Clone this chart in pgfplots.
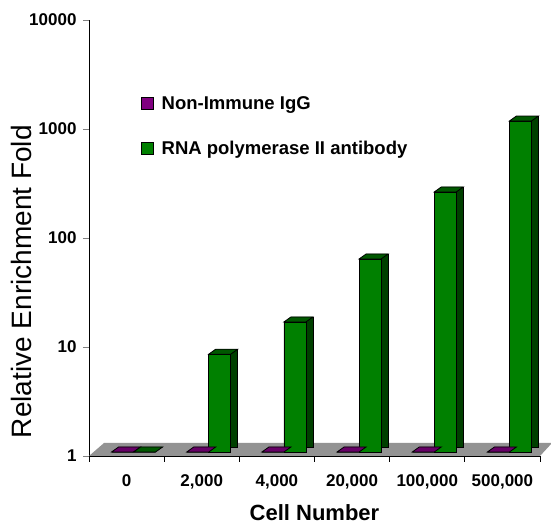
\documentclass[border=0pt]{standalone}
\usepackage{pgfplots}
\pgfplotsset{compat=1.18}
\usepackage{pgfplotstable}
\usepackage{fontspec}
\setmainfont{Liberation Sans}

\definecolor{igg}{HTML}{800080}
\definecolor{iggdark}{HTML}{400040}
\definecolor{iggtop}{HTML}{660066}
\definecolor{pol}{HTML}{008000}
\definecolor{poldark}{HTML}{004000}
\definecolor{poltop}{HTML}{005800}
\definecolor{floorgray}{HTML}{939393}

% top face of a 3D bar, front edge 22pt wide, depth 7pt x 5pt
\pgfdeclareplotmark{topP}{%
  \pgfpathmoveto{\pgfqpoint{-15pt}{4pt}}%
  \pgfpathlineto{\pgfqpoint{7pt}{4pt}}%
  \pgfpathlineto{\pgfqpoint{14pt}{9pt}}%
  \pgfpathlineto{\pgfqpoint{-8pt}{9pt}}%
  \pgfpathclose\pgfusepathqfillstroke}
\pgfdeclareplotmark{topG}{%
  \pgfpathmoveto{\pgfqpoint{7pt}{4pt}}%
  \pgfpathlineto{\pgfqpoint{29pt}{4pt}}%
  \pgfpathlineto{\pgfqpoint{36pt}{9pt}}%
  \pgfpathlineto{\pgfqpoint{14pt}{9pt}}%
  \pgfpathclose\pgfusepathqfillstroke}

\pgfplotstableread{
x igg pol
0 1 1
1 1 7.9
2 1 15.6
3 1 59
4 1 243
5 1 1088
}\enrich

\begin{document}
\begin{tikzpicture}
\path[use as bounding box] (-89pt,-68pt) rectangle (462pt,456pt);
\begin{axis}[
  at={(0,0)}, anchor=south west,
  width=451pt, height=436pt, scale only axis,
  clip=false,
  ymode=log, ymin=1, ymax=10000,
  yminorticks=false,
  log ticks with fixed point,
  /pgf/number format/1000 sep={},
  /pgf/number format/assume math mode=true,
  xmin=-0.5, xmax=5.5,
  xtick={0,...,5},
  xticklabels={0,{2,000},{4,000},{20,000},{100,000},{500,000}},
  xtick style={draw=none},
  extra x ticks={-0.5,0.5,1.5,2.5,3.5,4.5,5.5},
  extra x tick labels={},
  extra x tick style={xtick style={draw=black}},
  major tick length=6pt,
  tick align=outside,
  tick style={line width=0.8pt},
  axis x line*=bottom, axis y line*=left,
  x axis line style={-, line width=0.8pt},
  y axis line style={-, line width=0.8pt},
  ticklabel style={font=\bfseries\fontsize{17}{17}\selectfont},
  yticklabel style={xshift=-3pt},
  xticklabel style={anchor=base, yshift=-25pt},
  ylabel={Relative Enrichment Fold},
  ylabel style={font=\fontsize{28}{28}\selectfont, at={(axis description cs:-0.149,0.40)}, anchor=center},
  xlabel={Cell Number},
  xlabel style={font=\bfseries\fontsize{22}{22}\selectfont, at={(axis description cs:0.5,0)}, anchor=base, yshift=-64pt},
  legend style={draw=none, fill=none, inner sep=0pt, at={(axis description cs:0.1155,0.757)}, anchor=west,
    font=\bfseries\fontsize{18.5}{18.5}\selectfont, row sep=26pt},
  legend cell align=left,
  legend image code/.code={\draw[#1, line width=0.8pt] (0pt,-10pt) rectangle (12pt,2pt);
    \path[draw=none, fill=none] (12pt,-4pt) -- (18pt,-4pt);},
]
% floor
\fill[floorgray] (rel axis cs:0,0) -- (rel axis cs:1,0) -- ([shift={(12pt,13pt)}]rel axis cs:1,0)
  -- ([shift={(15pt,13pt)}]rel axis cs:0,0) -- cycle;
% Non-Immune IgG
\addplot[ybar, bar width=22pt, bar shift=3pt, yshift=9pt, fill=iggdark, draw=black, line width=0.8pt, forget plot]
  table[x=x, y=igg] {\enrich};
\addplot[ybar, bar width=22pt, bar shift=-4pt, yshift=4pt, fill=igg, draw=black, line width=0.8pt]
  table[x=x, y=igg] {\enrich};
\addplot[only marks, mark=topP, mark options={fill=iggtop, draw=black, line width=0.8pt}, forget plot]
  table[x=x, y=igg] {\enrich};
% RNA polymerase II
\addplot[ybar, bar width=22pt, bar shift=25pt, yshift=9pt, fill=poldark, draw=black, line width=0.8pt, forget plot]
  table[x=x, y=pol] {\enrich};
\addplot[ybar, bar width=22pt, bar shift=18pt, yshift=4pt, fill=pol, draw=black, line width=0.8pt]
  table[x=x, y=pol] {\enrich};
\addplot[only marks, mark=topG, mark options={fill=poltop, draw=black, line width=0.8pt}, forget plot]
  table[x=x, y=pol] {\enrich};
\legend{Non-Immune IgG, RNA polymerase II antibody}
\end{axis}
\end{tikzpicture}
\end{document}
